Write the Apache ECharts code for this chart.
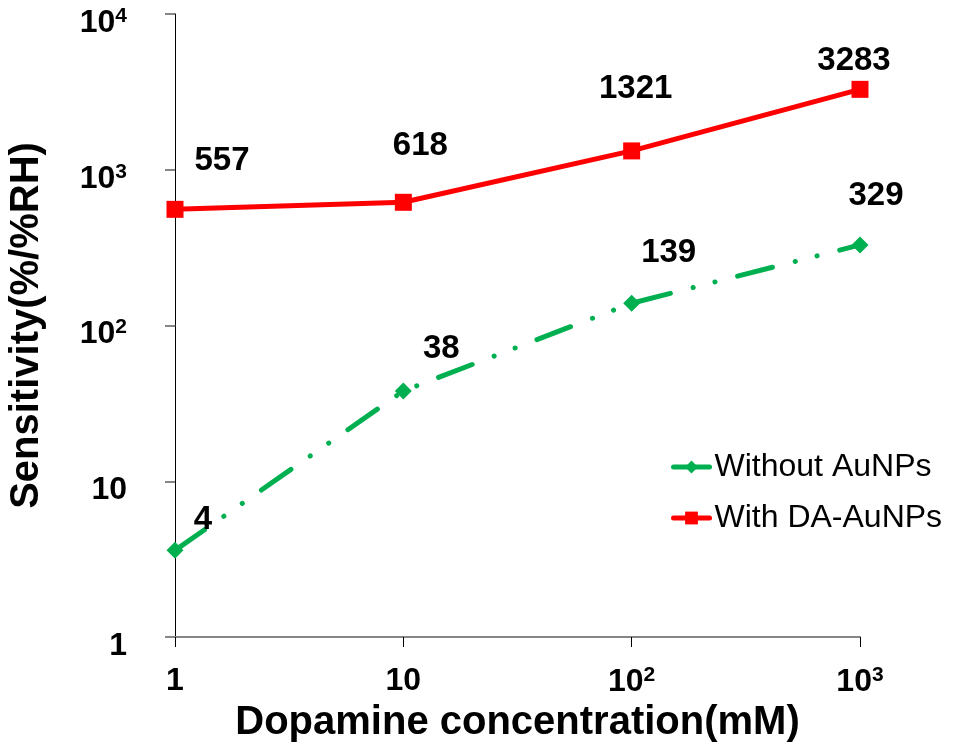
<!DOCTYPE html>
<html>
<head>
<meta charset="utf-8">
<script src="https://cdn.jsdelivr.net/npm/echarts@6/dist/echarts.min.js"></script>
<style>
html,body{margin:0;padding:0;background:#fff;}
#chart{width:960px;height:747px;}
</style>
</head>
<body>
<div id="chart"></div>
<script>
// ---- data ----
const concentrations = [1, 10, 100, 1000];
const withoutAuNPs = [3.6, 38, 139, 329];
const withDaAuNPs = [557, 618, 1321, 3283];
const seriesNames = ['Without AuNPs', 'With DA-AuNPs'];
// tick labels: [base, superscript]
const xTickLabels = [['1', ''], ['10', ''], ['10', '2'], ['10', '3']];
const yTickLabels = [['1', ''], ['10', ''], ['10', '2'], ['10', '3'], ['10', '4']];
const xAxisTitle = 'Dopamine concentration(mM)';
const yAxisTitle = 'Sensitivity(%/%RH)';

// label offsets (styling, kept separate from values)
const greenLabelOffsets = [[28, -30], [38, -42], [37, -50], [16, -49]];
const redLabelOffsets = [[47, -48], [17, -56], [4, -62], [-6, -28]];

const FONT = 'Liberation Sans, Arial, sans-serif';
const GREEN = '#00B050';
const RED = '#FF0000';

function expIndex(v) { return Math.round(Math.log10(v)); }
function tickText(arr, v) {
  const t = arr[expIndex(v)];
  if (!t) return '';
  return '{base|' + t[0] + '}' + (t[1] ? '{sup|' + t[1] + '}' : '');
}

const supRich = {
  base: { fontSize: 32, fontWeight: 'bold', fontFamily: FONT, color: '#000' },
  sup: { fontSize: 21, fontWeight: 'bold', fontFamily: FONT, color: '#000', verticalAlign: 'top', padding: [0, 0, 14, 0] }
};

function buildData(vals, offsets) {
  return concentrations.map((c, i) => ({
    value: [c, vals[i]],
    label: { offset: offsets[i] }
  }));
}

const labelStyle = {
  show: true,
  position: 'inside',
  fontSize: 33,
  fontWeight: 'bold',
  fontFamily: FONT,
  color: '#000',
  formatter: p => String(Math.round(p.value[1]))
};

const chart = echarts.init(document.getElementById('chart'), null, { renderer: 'canvas' });
chart.setOption({
  animation: false,
  backgroundColor: '#fff',
  grid: { left: 175, right: 100, top: 14, bottom: 110, containLabel: false, outerBoundsMode: 'none' },
  xAxis: {
    type: 'log',
    logBase: 10,
    min: 1,
    max: 1000,
    splitNumber: 3,
    name: xAxisTitle,
    nameLocation: 'middle',
    nameGap: 66,
    nameTextStyle: { fontSize: 40, fontWeight: 'bold', fontFamily: FONT, color: '#000' },
    axisLine: { show: true, lineStyle: { color: '#868686', width: 2 } },
    axisTick: { show: true, inside: false, length: 10, lineStyle: { color: '#000', width: 1 } },
    splitLine: { show: false },
    axisLabel: {
      margin: 28,
      fontSize: 32, fontWeight: 'bold', fontFamily: FONT, color: '#000',
      formatter: v => tickText(xTickLabels, v),
      rich: supRich
    }
  },
  yAxis: {
    type: 'log',
    logBase: 10,
    min: 1,
    max: 10000,
    splitNumber: 4,
    name: yAxisTitle,
    nameLocation: 'middle',
    nameGap: 128,
    nameTextStyle: { fontSize: 40, fontWeight: 'bold', fontFamily: FONT, color: '#000' },
    axisLine: { show: true, lineStyle: { color: '#000', width: 1 } },
    axisTick: { show: true, inside: false, length: 10, lineStyle: { color: '#868686', width: 2 } },
    splitLine: { show: false },
    axisLabel: {
      margin: 48,
      padding: [18, 0, 0, 0],
      fontSize: 32, fontWeight: 'bold', fontFamily: FONT, color: '#000',
      formatter: v => tickText(yTickLabels, v),
      rich: supRich
    }
  },
  legend: {
    orient: 'vertical',
    left: 666,
    top: 446,
    itemGap: 19,
    itemWidth: 36,
    itemHeight: 16,
    data: seriesNames,
    lineStyle: { type: 'solid', width: 5, cap: 'round' },
    textStyle: { fontSize: 32, fontFamily: FONT, color: '#000' }
  },
  series: [
    {
      name: seriesNames[0],
      type: 'line',
      data: buildData(withoutAuNPs, greenLabelOffsets),
      symbol: 'diamond',
      symbolSize: 17,
      itemStyle: { color: GREEN },
      lineStyle: { color: GREEN, width: 5, type: [36, 23.5, 0.1, 22.4, 0.1, 23.3], cap: 'round' },
      label: labelStyle,
      z: 3
    },
    {
      name: seriesNames[1],
      type: 'line',
      data: buildData(withDaAuNPs, redLabelOffsets),
      symbol: 'rect',
      symbolSize: 17,
      itemStyle: { color: RED },
      lineStyle: { color: RED, width: 5 },
      label: labelStyle,
      z: 4
    }
  ]
});
</script>
</body>
</html>
